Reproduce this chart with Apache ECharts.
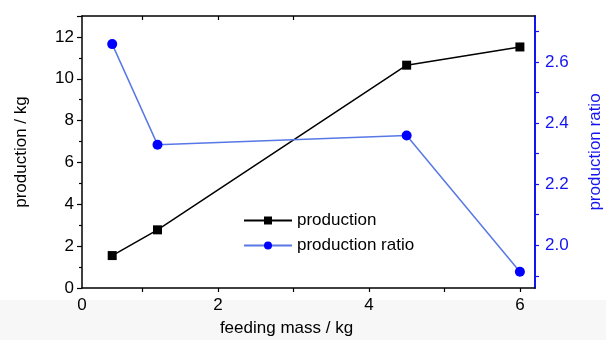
<!DOCTYPE html>
<html>
<head>
<meta charset="utf-8">
<script src="https://cdn.jsdelivr.net/npm/echarts@6/dist/echarts.min.js"></script>
<style>
  html, body { margin: 0; padding: 0; background: #fff; }
  #chart { width: 606px; height: 340px; }
</style>
</head>
<body>
<div id="chart"></div>
<script>
// data
var feedMass = [0.6, 1.2, 4.5, 6.0];
var production = [1.55, 2.78, 10.65, 11.52];
var productionRatio = [2.658, 2.329, 2.359, 1.913];

// tick labels
var xTickValues = [0.2, 2, 4, 6];
var xTickLabels = ['0', '2', '4', '6'];
var xMinorTicks = [1, 2, 3, 4, 5, 6];
var ratioTickValues = [2.0, 2.2, 2.4, 2.6];
var ratioMinorTicks = [1.9, 2.0, 2.1, 2.2, 2.3, 2.4, 2.5, 2.6, 2.7];

var FONT = 'Liberation Sans, Arial, sans-serif';
var BLUE = '#1414f0';

var chart = echarts.init(document.getElementById('chart'));

function pairs(xs, ys) {
  return xs.map(function (x, i) { return [x, ys[i]]; });
}

var option = {
  animation: false,
  textStyle: { fontFamily: FONT },
  graphic: [{
    type: 'rect',
    z: -10,
    shape: { x: 0, y: 300, width: 606, height: 40 },
    style: { fill: '#f7f7f7' }
  }],
  grid: { left: 82, right: 71, top: 16, bottom: 52, containLabel: false, outerBoundsMode: 'none' },
  legend: {
    orient: 'vertical',
    left: 238,
    top: 207,
    itemWidth: 48,
    itemHeight: 10,
    itemGap: 8,
    textStyle: { fontFamily: FONT, fontSize: 17, color: '#000' },
    data: ['production', 'production ratio']
  },
  xAxis: [{
    type: 'value',
    min: 0.2,
    max: 6.2,
    name: 'feeding mass / kg',
    nameLocation: 'middle',
    nameGap: 32,
    nameTextStyle: { fontFamily: FONT, fontSize: 17, color: '#000', padding: [0, 44, 0, 0] },
    splitLine: { show: false },
    axisLine: { onZero: false, lineStyle: { color: '#000', width: 1.5 } },
    axisTick: { customValues: xMinorTicks, length: 4, lineStyle: { color: '#000', width: 1.2 } },
    axisLabel: {
      customValues: xTickValues,
      margin: 9,
      fontFamily: FONT, fontSize: 17, color: '#000',
      formatter: function (v) { return xTickLabels[xTickValues.indexOf(v)]; }
    }
  }, {
    type: 'value',
    position: 'top',
    min: 0.2,
    max: 6.2,
    splitLine: { show: false },
    axisLine: { onZero: false, lineStyle: { color: '#000', width: 1.5 } },
    axisTick: { customValues: [1, 2, 3], inside: true, length: 4, lineStyle: { color: '#000', width: 1.2 } },
    axisLabel: { show: false }
  }],
  yAxis: [{
    type: 'value',
    min: 0,
    max: 13,
    interval: 2,
    name: 'production / kg',
    nameLocation: 'middle',
    nameGap: 52,
    nameTextStyle: { fontFamily: FONT, fontSize: 17, color: '#000' },
    splitLine: { show: false },
    axisLine: { show: true, onZero: false, lineStyle: { color: '#000', width: 1.5 } },
    axisTick: { length: 5, lineStyle: { color: '#000', width: 1.2 } },
    minorTick: { show: true, splitNumber: 2, length: 3, lineStyle: { color: '#000', width: 1.2 } },
    axisLabel: {
      margin: 8,
      fontFamily: FONT, fontSize: 17, color: '#000',
      showMaxLabel: false
    }
  }, {
    type: 'value',
    position: 'right',
    min: 1.86,
    max: 2.75,
    name: 'production ratio',
    nameLocation: 'middle',
    nameGap: 52,
    nameTextStyle: { fontFamily: FONT, fontSize: 17, color: BLUE },
    splitLine: { show: false },
    axisLine: { show: true, onZero: false, lineStyle: { color: BLUE, width: 2 } },
    axisTick: { customValues: ratioMinorTicks, length: 4, lineStyle: { color: BLUE, width: 1.2 } },
    axisLabel: {
      customValues: ratioTickValues,
      margin: 10,
      fontFamily: FONT, fontSize: 17, color: BLUE,
      formatter: function (v) { return v.toFixed(1); }
    }
  }],
  series: [{
    name: 'production',
    type: 'line',
    xAxisIndex: 0,
    yAxisIndex: 0,
    data: pairs(feedMass, production),
    symbol: 'rect',
    symbolSize: 9,
    lineStyle: { color: '#000', width: 1.5 },
    itemStyle: { color: '#000' }
  }, {
    name: 'production ratio',
    type: 'line',
    xAxisIndex: 0,
    yAxisIndex: 1,
    data: pairs(feedMass, productionRatio),
    symbol: 'circle',
    symbolSize: 10,
    lineStyle: { color: '#5878e6', width: 1.5 },
    itemStyle: { color: '#0000ff' }
  }]
};

chart.setOption(option);
</script>
</body>
</html>
